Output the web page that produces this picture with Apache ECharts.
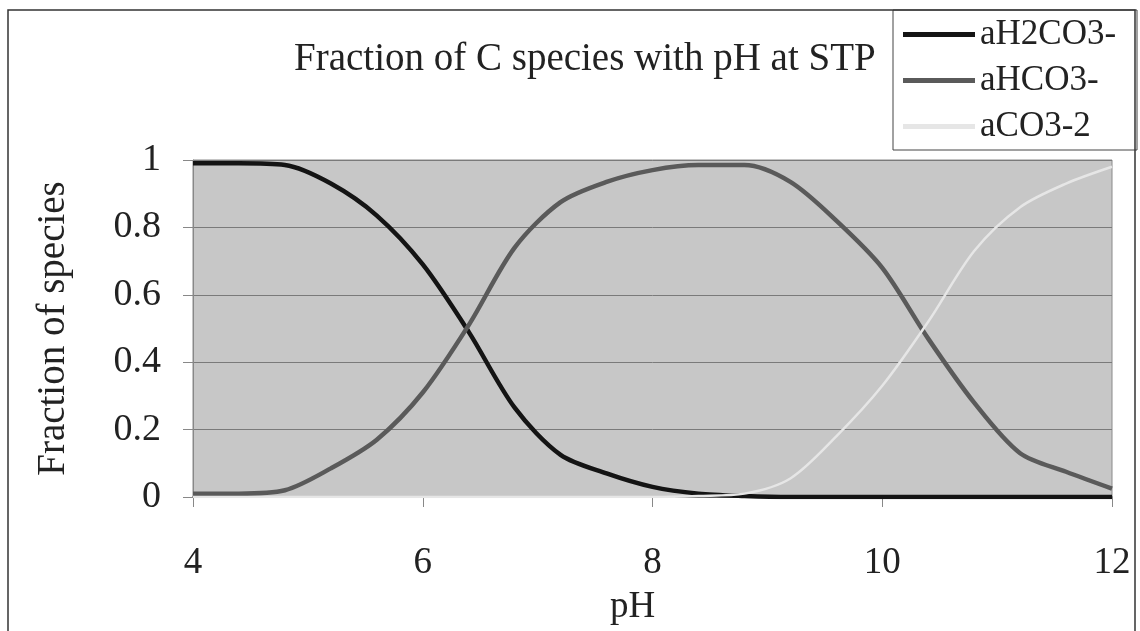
<!DOCTYPE html>
<html>
<head>
<meta charset="utf-8">
<title>Fraction of C species with pH at STP</title>
<script src="https://cdn.jsdelivr.net/npm/echarts@6/dist/echarts.min.js"></script>
<style>
  html, body { margin: 0; padding: 0; background: #fff; }
  #chart { width: 1140px; height: 631px; }
</style>
</head>
<body>
<div id="chart"></div>
<script>
"use strict";

// pH sample points and species fractions
const phValues = [4.0, 4.4, 4.8, 5.2, 5.6, 6.0, 6.4, 6.8, 7.2, 7.6, 8.0, 8.4, 8.8, 9.2, 9.6, 10.0, 10.4, 10.8, 11.2, 11.6, 12.0];
const h2co3    = [0.99, 0.99, 0.985, 0.93, 0.835, 0.69, 0.49, 0.265, 0.125, 0.07, 0.03, 0.01, 0.003, 0, 0, 0, 0, 0, 0, 0, 0];
const hco3     = [0.01, 0.01, 0.02, 0.085, 0.17, 0.31, 0.51, 0.74, 0.875, 0.935, 0.97, 0.985, 0.985, 0.935, 0.82, 0.68, 0.47, 0.28, 0.13, 0.075, 0.025];
const co3      = [0, 0, 0, 0, 0, 0, 0, 0, 0, 0, 0, 0.003, 0.01, 0.055, 0.18, 0.33, 0.52, 0.73, 0.86, 0.93, 0.98];
const xTicks   = [4, 6, 8, 10, 12];
const yTicks   = [0, 0.2, 0.4, 0.6, 0.8, 1];

const FONT = "Liberation Serif";
const pairs = arr => phValues.map((p, i) => [p, arr[i]]);

const chart = echarts.init(document.getElementById("chart"), null, { renderer: "canvas" });

chart.setOption({
  backgroundColor: "#fff",
  animation: false,
  title: {
    text: "Fraction of C species with pH at STP",
    left: 289, top: 35,
    textStyle: { fontFamily: FONT, fontSize: 39, fontWeight: "normal", color: "#222" }
  },
  legend: {
    orient: "vertical",
    left: 903, top: 17,
    icon: "rect",
    itemWidth: 72, itemHeight: 5, itemGap: 11,
    padding: 0,
    textStyle: { fontFamily: FONT, fontSize: 35, color: "#222" },
    data: ["aH2CO3-", "aHCO3-", "aCO3-2"]
  },
  graphic: [
    { type: "rect", shape: { x: 8, y: 10, width: 1127, height: 650 }, style: { fill: null, stroke: "#333", lineWidth: 1.5 }, silent: true },
    { type: "rect", shape: { x: 893, y: 10, width: 244, height: 140 }, style: { fill: "#fff", stroke: "#444", lineWidth: 1 }, silent: true, z: -1 }
  ],
  grid: {
    left: 193, right: 28, top: 160, bottom: 129,
    show: true, backgroundColor: "#c7c7c7", borderColor: "#8a8a8a", borderWidth: 1
  },
  xAxis: {
    type: "value", min: xTicks[0], max: xTicks[xTicks.length - 1], interval: 2,
    name: "pH", nameLocation: "middle", nameGap: 92,
    nameTextStyle: { fontFamily: FONT, fontSize: 37, color: "#222", padding: [0, 40, 0, 0] },
    axisLine: { show: true, lineStyle: { color: "#555", width: 1.5 } },
    axisTick: { show: true, inside: false, length: 10, lineStyle: { color: "#888" } },
    axisLabel: { margin: 48, fontFamily: FONT, fontSize: 37, color: "#222" },
    splitLine: { show: false }
  },
  yAxis: {
    type: "value", min: yTicks[0], max: yTicks[yTicks.length - 1], interval: 0.2,
    name: "Fraction of species", nameLocation: "middle", nameGap: 120,
    nameTextStyle: { fontFamily: FONT, fontSize: 39, color: "#222" },
    axisLine: { show: true, lineStyle: { color: "#888" } },
    axisTick: { show: true, length: 10, lineStyle: { color: "#888" } },
    axisLabel: { margin: 32, fontFamily: FONT, fontSize: 38, color: "#222" },
    splitLine: { show: true, lineStyle: { color: "#7a7a7a", width: 1 } }
  },
  series: [
    {
      name: "aH2CO3-", type: "line", smooth: 0.3, symbol: "none",
      data: pairs(h2co3),
      lineStyle: { color: "#141414", width: 4.5 },
      itemStyle: { color: "#141414" }
    },
    {
      name: "aHCO3-", type: "line", smooth: 0.3, symbol: "none",
      data: pairs(hco3),
      lineStyle: { color: "#5a5a5a", width: 4.5 },
      itemStyle: { color: "#5a5a5a" }
    },
    {
      name: "aCO3-2", type: "line", smooth: 0.3, symbol: "none",
      data: pairs(co3),
      lineStyle: { color: "#e6e6e6", width: 2.5 },
      itemStyle: { color: "#e6e6e6" }
    }
  ]
});
</script>
</body>
</html>
